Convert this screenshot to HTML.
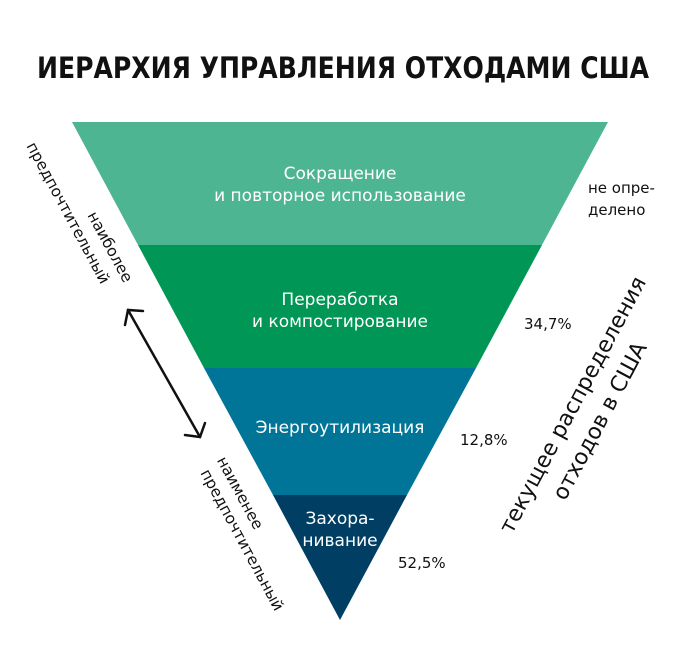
<!DOCTYPE html>
<html><head><meta charset="utf-8"><style>
html,body{margin:0;padding:0;background:#fff;}
svg{display:block;font-family:"DejaVu Sans","Liberation Sans",sans-serif;}
</style></head><body>
<svg width="700" height="648" viewBox="0 0 700 648" xmlns="http://www.w3.org/2000/svg">
<rect width="700" height="648" fill="#fff"/>
<text x="343" y="78" text-anchor="middle" font-size="29" font-weight="bold" fill="#111" textLength="612" lengthAdjust="spacingAndGlyphs">ИЕРАРХИЯ УПРАВЛЕНИЯ ОТХОДАМИ США</text>
<polygon points="72,122 608,122 542,245 138,245" fill="#4db592"/>
<polygon points="138,245 542,245 476,368 204,368" fill="#009655"/>
<polygon points="204,368 476,368 407,495 273,495" fill="#007597"/>
<polygon points="273,495 407,495 340,620" fill="#003f63"/>
<g fill="#fff" font-size="17" text-anchor="middle">
<text x="340" y="179">Сокращение</text>
<text x="340" y="201">и повторное использование</text>
<text x="340" y="305">Переработка</text>
<text x="340" y="327">и компостирование</text>
<text x="340" y="433">Энергоутилизация</text>
<text x="340" y="524">Захора-</text>
<text x="340" y="546">нивание</text>
</g>
<g fill="#111" font-size="15">
<text x="588" y="193">не опре-</text>
<text x="588" y="215">делено</text>
<text x="524" y="329">34,7%</text>
<text x="460" y="445">12,8%</text>
<text x="398" y="568">52,5%</text>
</g>
<g fill="#111" font-size="15.5" text-anchor="middle">
<text transform="translate(110,247) rotate(61.7)" dy="5">наиболее</text>
<text transform="translate(68,213) rotate(61.7)" dy="5">предпочтительный</text>
<text transform="translate(240,493) rotate(61.7)" dy="5">наименее</text>
<text transform="translate(242,540) rotate(61.7)" dy="5">предпочтительный</text>
</g>
<g fill="#111" font-size="22" text-anchor="middle">
<text transform="translate(573,405) rotate(-62)" dy="7">текущее распределения</text>
<text transform="translate(600,421) rotate(-62)" dy="7">отходов в США</text>
</g>
<g stroke="#111" stroke-width="2.5" fill="none" stroke-linecap="round">
<line x1="128" y1="310" x2="200" y2="437"/>
<polyline points="143,311 128,310 125,325"/>
<polyline points="185,435 200,437 205,423"/>
</g>
</svg>
</body></html>
